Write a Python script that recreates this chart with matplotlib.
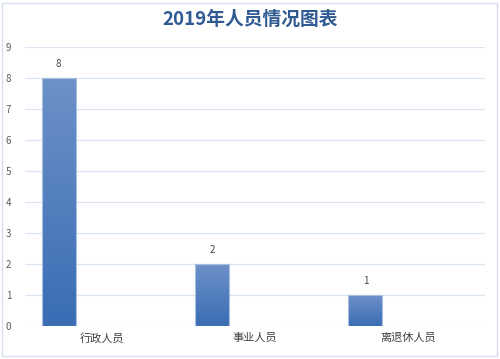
import numpy as np
import matplotlib.pyplot as plt
from matplotlib.colors import LinearSegmentedColormap
from matplotlib.patches import Rectangle

plt.rcParams['font.family'] = ['Noto Sans CJK SC', 'DejaVu Sans']

categories = ['行政人员', '事业人员', '离退休人员']
values = [8, 2, 1]
y_ticks = list(range(0, 10))
title = '2019年人员情况图表'

fig = plt.figure(figsize=(5, 3.59), dpi=100)
ax = fig.add_axes([0.05, 0.0919, 0.92, 0.777])

x = np.arange(len(categories))
width = 0.222
offset = -0.28
grad = LinearSegmentedColormap.from_list('g', ['#3a6db4', '#6d91c9'])
ramp = np.linspace(0, 1, 256).reshape(-1, 1)

bars = ax.bar(x + offset, values, width, color='none', edgecolor='#a9bfe0', linewidth=0.8, zorder=3)
for b, v in zip(bars, values):
    x0 = b.get_x()
    ax.imshow(ramp, cmap=grad, aspect='auto', origin='lower',
              extent=(x0, x0 + width, 0, v), zorder=2)
    ax.text(x0 + width / 2, v + 0.3, str(v), ha='center', va='bottom',
            fontsize=7, color='#404040')

ax.set_xlim(-0.5, 2.5)
ax.set_ylim(0, 9)
ax.set_yticks(y_ticks)
ax.set_xticks(x)
ax.set_xticklabels(categories, fontsize=8, color='#404040')
ax.tick_params(axis='y', labelsize=7, colors='#595959', length=0, pad=10)
ax.tick_params(axis='x', length=0, pad=5)
ax.grid(axis='y', color='#dbe4f1', linewidth=0.9, zorder=0)
ax.set_axisbelow(True)
for s in ax.spines.values():
    s.set_visible(False)

fig.text(0.5, 0.945, title, ha='center', va='center', fontsize=13.5,
         fontweight='bold', color='#2f5a92')

fig.patches.append(Rectangle((0.004, 0.008), 0.99, 0.985, transform=fig.transFigure,
                             fill=False, edgecolor='#d6dfeb', linewidth=1))

fig.savefig('out.png', dpi=100)
